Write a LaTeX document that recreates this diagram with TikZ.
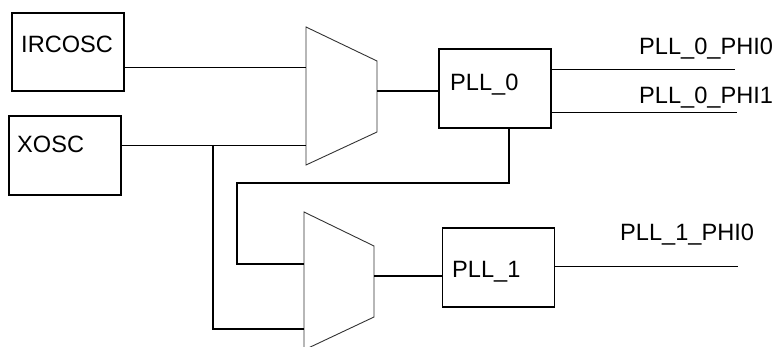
\documentclass[tikz,border=0pt]{standalone}
\usepackage{fontspec}
\setmainfont{Liberation Sans}
\begin{document}
\begin{tikzpicture}[x=1pt,y=-1pt,
  blk/.style={draw,line width=1.3pt,rectangle,inner sep=0pt},
  lbl/.style={inner sep=0pt,anchor=base west,font=\fontsize{23.6}{28}\selectfont},
  thin/.style={line width=0.8pt},
  thick/.style={line width=1.3pt},
  muxline/.style={line width=0.9pt,draw=black!80,line join=miter}]
\clip (0,0) rectangle (776,347);
% blocks
\node[blk,minimum width=112pt,minimum height=78pt] (ircosc) at (68,52) {};
\node[blk,minimum width=112pt,minimum height=79pt] (xosc) at (65,155.5) {};
\node[blk,minimum width=112pt,minimum height=79pt] (pll0) at (495,88.5) {};
\node[blk,minimum width=112pt,minimum height=79pt] (pll1) at (498.7,267.5) {};
% labels
\node[lbl] (tirc) at (21,53) {IRCOSC};
\node[lbl] (txo) at (17,153) {XOSC};
\node[lbl] (tp0) at (450,91) {PLL\_0};
\node[lbl] (tp1) at (452,277) {PLL\_1};
\node[lbl] (to00) at (639,55) {PLL\_0\_PHI0};
\node[lbl] (to01) at (639,104) {PLL\_0\_PHI1};
\node[lbl] (to10) at (620,241) {PLL\_1\_PHI0};
% mux shapes
\draw[muxline] (306,27) -- (377,61) -- (377,132) -- (306,165) -- cycle;
\draw[muxline] (304,212) -- (374,246) -- (374,317) -- (304,350) -- cycle;
\coordinate (m0in1) at (306,67);
\coordinate (m0in2) at (306,145);
\coordinate (m0out) at (377,91);
\coordinate (m1in1) at (304,264);
\coordinate (m1in2) at (304,329);
\coordinate (m1out) at (374,276);
\coordinate (j) at (213,145);
\coordinate (fbtop) at (509,128);
\coordinate (fbcorner) at (237,183);
\coordinate (o00) at (735,69);
\coordinate (o01) at (737,112);
\coordinate (o10) at (738,266);
% connectors
\draw[thin] (m0in1 -| ircosc.east) -- (m0in1);
\draw[thin] (m0in2 -| xosc.east) -- (m0in2);
\draw[thick] (j) |- (m1in2);
\draw[thick] (m0out) -- (m0out -| pll0.west);
\draw[thin] (o00 -| pll0.east) -- (o00);
\draw[thin] (o01 -| pll0.east) -- (o01);
\draw[thick] (fbtop) |- (fbcorner) |- (m1in1);
\draw[thick] (m1out) -- (m1out -| pll1.west);
\draw[thin] (o10 -| pll1.east) -- (o10);
\end{tikzpicture}
\end{document}
